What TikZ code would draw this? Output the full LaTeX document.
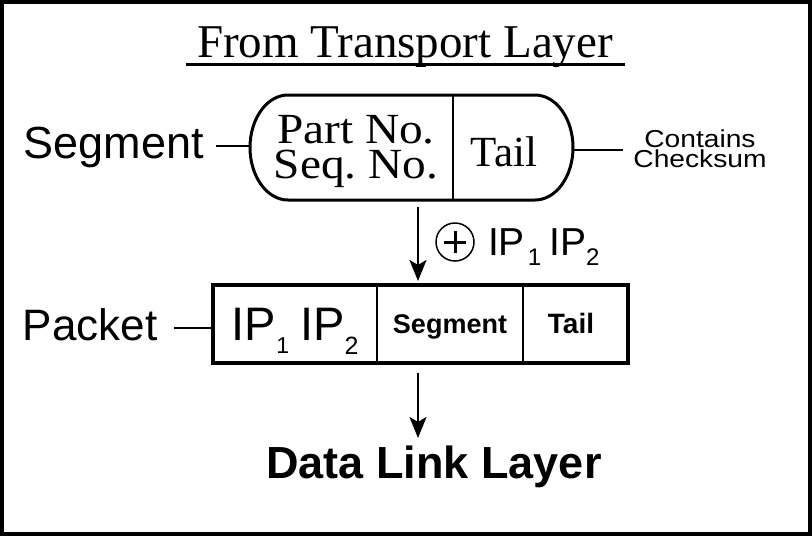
\documentclass[tikz,border=0pt]{standalone}
\usepackage{fontspec}
\setmainfont{Liberation Serif}
\setsansfont{Liberation Sans}
\newfontfamily\wideSans[FakeStretch=1.15]{Liberation Sans}
\newfontfamily\wideSerif[FakeStretch=1.1]{Liberation Serif}
\usetikzlibrary{arrows.meta}
\newcommand{\fs}[1]{\fontsize{#1}{#1}\selectfont}
\frenchspacing
\begin{document}
\begin{tikzpicture}[x=1pt,y=-1pt,
  txt/.style={inner sep=0pt,outer sep=0pt},
  conn/.style={line width=2pt},
  flow/.style={line width=2.5pt,-{Stealth[length=21pt,width=17pt,inset=5pt]}},
  divider/.style={line width=1.5pt}]
\useasboundingbox (0,0) rectangle (812,536);
\draw[line width=4pt] (2,2) rectangle (810,534);

% title
\node[txt,anchor=base,font=\fs{47}] (title) at (405,57) {From Transport Layer};
\draw[line width=3pt] (186,64) -- (625,64);

% segment pill
\draw[line width=3pt] (288,95) -- (535,95)
  arc[start angle=-90,end angle=90,x radius=38,y radius=52.5] -- (288,200)
  arc[start angle=90,end angle=270,x radius=38,y radius=52.5] -- cycle;
\draw[divider] (453,95) -- (453,200);
\coordinate (pillL) at (250,146);
\coordinate (pillR) at (573,150);
\coordinate (pillB) at (418,207);
\node[txt,anchor=base,font=\wideSerif\fs{43}] (partno) at (356,143) {Part No.};
\node[txt,anchor=base,font=\wideSerif\fs{43}] (seqno) at (356,178) {Seq. No.};
\node[txt,anchor=base,font=\fs{43}] (tail1) at (504,166) {Tail};

\node[txt,anchor=base east,font=\sffamily\fs{45}] (seglabel) at (204,158) {Segment};
\coordinate (segL) at (216,146);
\draw[conn] (segL) -- (pillL);

\coordinate (chkL) at (623,150);
\draw[conn] (pillR) -- (chkL);
\node[txt,anchor=base,font=\wideSans\fs{24.5}] (contains) at (700,147) {Contains};
\node[txt,anchor=base,font=\wideSans\fs{24.5}] (checksum) at (700,167) {Checksum};

% first arrow
\coordinate (pktT) at (418,281);
\draw[flow] (pillB) -- (pktT);
\node[draw,circle,line width=1.5pt,minimum size=38pt,inner sep=0pt] (oplus) at (455,242) {};
\draw[line width=3pt] ([xshift=-11pt]oplus.center) -- ([xshift=11pt]oplus.center);
\draw[line width=3pt] ([yshift=-11pt]oplus.center) -- ([yshift=11pt]oplus.center);
\node[txt,anchor=base west,font=\sffamily\fs{39}] (ipadd) at (488,255)
  {IP\kern3pt\raisebox{-10pt}{\fs{24}1}\kern8pt IP\raisebox{-10pt}{\fs{24}2}};

% packet
\draw[line width=4pt] (213,285) rectangle (628,363);
\draw[divider] (377,285) -- (377,363);
\draw[divider] (523,285) -- (523,363);
\node[txt,anchor=base west,font=\sffamily\fs{47}] (ips) at (231,340)
  {IP\kern1pt\raisebox{-13pt}{\fs{23}1}\kern11pt IP\raisebox{-14pt}{\fs{25}2}};
\node[txt,anchor=base,font=\sffamily\bfseries\fs{27}] (pseg) at (450,333) {Segment};
\node[txt,anchor=base,font=\sffamily\bfseries\fs{28}] (ptail) at (571,333) {Tail};

\node[txt,anchor=base west,font=\sffamily\fs{44}] (pktlabel) at (23,340) {Packet};
\coordinate (pktL0) at (174,328);
\coordinate (pktL) at (213,328);
\draw[conn] (pktL0) -- (pktL);

% second arrow
\coordinate (pktB) at (418,373);
\coordinate (dllT) at (418,438);
\draw[flow] (pktB) -- (dllT);
\node[txt,anchor=base,font=\sffamily\bfseries\fs{45}] (dll) at (434,478) {Data Link Layer};
\end{tikzpicture}
\end{document}
